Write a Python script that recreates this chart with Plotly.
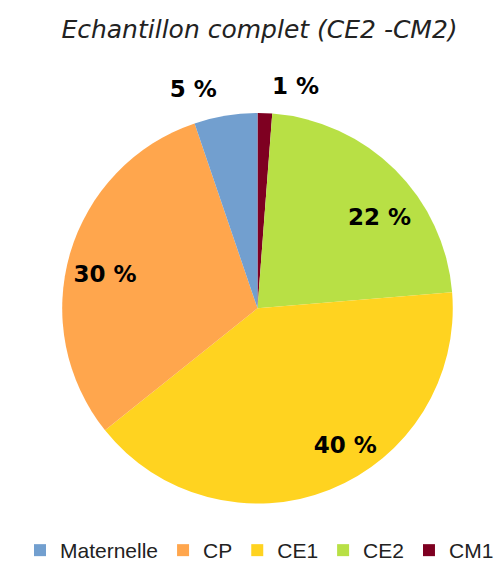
import plotly.graph_objects as go

# données (ordre horaire depuis midi)
niveaux = ["CM1", "CE2", "CE1", "CP", "Maternelle"]
parts = [1.2, 22.4, 40.4, 30.4, 5.2]
etiquettes = ["1 %", "22 %", "40 %", "30 %", "5 %"]

COULEURS = ["#7e0021", "#b8e045", "#ffd320", "#ffa64d", "#729fcf"]
TRANSPARENT = ["rgba(0,0,0,0)"] * len(niveaux)
POLICE = dict(family="DejaVu Sans", size=23, color="black", weight="bold")


def calque_etiquettes(indices, domaine):
    # camembert transparent qui ne sert qu'à poser certaines étiquettes
    return go.Pie(
        labels=niveaux, values=parts,
        text=[etiquettes[i] if i in indices else "" for i in range(len(niveaux))],
        textinfo="text",
        sort=False, direction="clockwise", rotation=0,
        marker=dict(colors=TRANSPARENT, line=dict(width=0)),
        textposition=["outside" if i in indices else "none" for i in range(len(niveaux))],
        outsidetextfont=POLICE,
        domain=domaine,
        showlegend=False, hoverinfo="skip",
    )


fig = go.Figure()

# camembert principal
fig.add_trace(go.Pie(
    labels=niveaux, values=parts,
    textinfo="none",
    sort=False, direction="clockwise", rotation=0,
    marker=dict(colors=COULEURS, line=dict(width=0)),
    domain=dict(x=[0.102, 0.890], y=[0.1055, 0.8105]),
    hoverinfo="label+percent",
))

# étiquettes CE2 et CP
fig.add_trace(calque_etiquettes([1, 3], dict(x=[0.2555, 0.7365], y=[0.243, 0.673])))
# étiquette CE1
fig.add_trace(calque_etiquettes([2], dict(x=[0.2237, 0.7683], y=[0.2147, 0.7013])))
# étiquettes des petites parts (au-dessus du camembert)
fig.add_trace(calque_etiquettes([0, 4], dict(x=[0.072, 0.920], y=[0.080, 0.836])))

fig.update_layout(
    width=503,
    height=563,
    margin=dict(l=0, r=0, t=0, b=0),
    paper_bgcolor="white",
    plot_bgcolor="white",
    title=dict(
        text="<i>Echantillon complet (CE2 -CM2)</i>",
        x=0.5,
        xanchor="center",
        y=0.962,
        yanchor="middle",
        font=dict(family="DejaVu Sans", size=25, color="#222"),
    ),
    legend=dict(
        orientation="h",
        traceorder="reversed",
        x=0.5,
        xanchor="center",
        y=0.02,
        yanchor="middle",
        font=dict(family="Liberation Sans", size=21, color="#222"),
        itemwidth=30,
        tracegroupgap=0,
    ),
)

fig.write_html("out.html")
